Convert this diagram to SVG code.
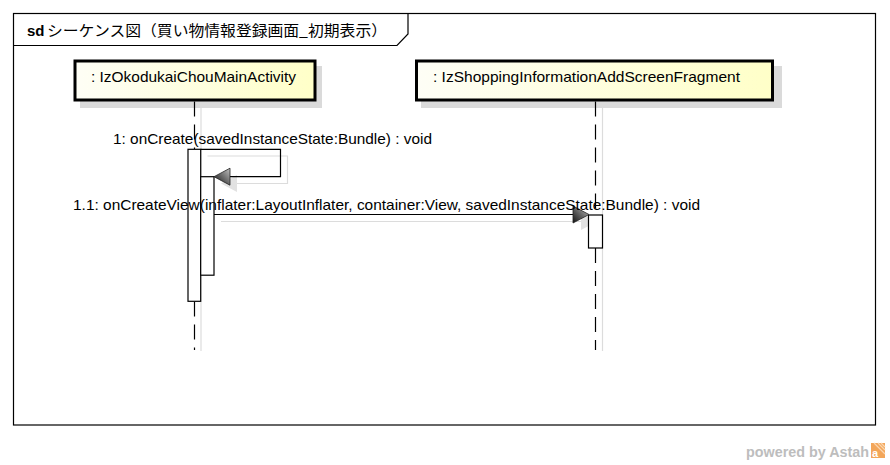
<svg xmlns="http://www.w3.org/2000/svg" width="890" height="465" viewBox="0 0 890 465">
<defs>
<linearGradient id="boxFill" x1="0" y1="0" x2="1" y2="0">
<stop offset="0" stop-color="#fefef6"/>
<stop offset="1" stop-color="#ffffc8"/>
</linearGradient>
<linearGradient id="headFill" x1="1" y1="0" x2="0" y2="1">
<stop offset="0" stop-color="#c0c0c0"/>
<stop offset="0.6" stop-color="#555"/>
<stop offset="1" stop-color="#111"/>
</linearGradient>
<style>
.t{font-family:"Liberation Sans",Arial,sans-serif;font-size:14.5px;fill:#000}
.frame{fill:none;stroke:#000;stroke-width:1.2}
.box{fill:url(#boxFill);stroke:#000;stroke-width:3}
.boxsh{fill:#dadada}
.life{stroke:#000;stroke-width:1.2;stroke-dasharray:15 8;fill:none}
.lifesh{stroke:#dcdcdc;stroke-width:1.2;fill:none}
.act{fill:#fff;stroke:#000;stroke-width:1.2}
.msg{fill:none;stroke:#000;stroke-width:1.2}
.msgsh{fill:none;stroke:#dcdcdc;stroke-width:1.2}
.head{fill:url(#headFill);stroke:#222;stroke-width:0.8}
.headsh{fill:#e2e2e2}
</style>
</defs>
<rect width="890" height="465" fill="#fff"/>
<g id="frame">
<rect class="frame" x="13.5" y="13.5" width="862" height="411.5"/>
<path class="frame" d="M13.5,45.5 H397 L408,34 V13.5"/>
<text class="t" x="27" y="36" style="font-size:15px"><tspan font-weight="bold">sd</tspan></text>
<text x="47" y="36" textLength="340" lengthAdjust="spacingAndGlyphs" style="font-family:'Noto Sans CJK JP','Liberation Sans',sans-serif;font-size:15px">シーケンス図（買い物情報登録画面_初期表示）</text>
</g>
<g id="lifeline-main">
<rect class="boxsh" x="80" y="66" width="242" height="42"/>
<line class="lifesh" x1="201" y1="108" x2="201" y2="351"/>
<rect class="box" x="75" y="61" width="240" height="39"/>
<text class="t" x="91" y="82" textLength="205" lengthAdjust="spacingAndGlyphs">: IzOkodukaiChouMainActivity</text>
<line class="life" x1="194.5" y1="101.5" x2="194.5" y2="149"/>
<line class="life" x1="194.5" y1="301.5" x2="194.5" y2="350"/>
</g>
<g id="lifeline-fragment">
<rect class="boxsh" x="421" y="66" width="361" height="42"/>
<line class="lifesh" x1="602.5" y1="108" x2="602.5" y2="351"/>
<rect class="box" x="416.5" y="61" width="356" height="39"/>
<text class="t" x="433" y="82" textLength="307" lengthAdjust="spacingAndGlyphs">: IzShoppingInformationAddScreenFragment</text>
<line class="life" x1="595.5" y1="101.5" x2="595.5" y2="215"/>
<line class="life" x1="595.5" y1="248" x2="595.5" y2="350"/>
</g>
<g id="connectors">
<path class="msgsh" d="M207.5,156 H287.5 V183.5 H232"/>
<polygon class="headsh" points="221,183.5 237,175 237,192"/>
<path class="msgsh" d="M221,221.5 H582"/>
<polygon class="headsh" points="597,221.5 581,213 581,230"/>
<rect class="act" x="188" y="149.3" width="12.7" height="152"/>
<rect class="act" x="200.7" y="176.7" width="13.3" height="98.5"/>
<rect class="act" x="588.5" y="215" width="14" height="33"/>
<path class="msg" d="M200.7,149.3 H280.5 V176.7 H228"/>
<polygon class="head" points="214,176.7 230,168.2 230,185.2"/>
<path class="msg" d="M214,214.5 H575"/>
<polygon class="head" points="589,214.5 573,206 573,223"/>
<text class="t" x="113" y="144.3" textLength="319" lengthAdjust="spacingAndGlyphs">1: onCreate(savedInstanceState:Bundle) : void</text>
<text class="t" x="73" y="210" textLength="627" lengthAdjust="spacingAndGlyphs">1.1: onCreateView(inflater:LayoutInflater, container:View, savedInstanceState:Bundle) : void</text>
</g>
<g id="watermark">
<text x="746" y="456.5" textLength="123" lengthAdjust="spacingAndGlyphs" style="font-family:'Liberation Sans',Arial,sans-serif;font-size:14.5px;font-weight:bold;fill:#bdbdbd">powered by Astah</text>
<rect x="871" y="443" width="14" height="15" fill="#f3a65a"/>
<path d="M878,443 L885,450 M881,443 L885,447 M874,443 L885,454" stroke="#fbd7b0" stroke-width="1.2"/>
<text x="872" y="457" style="font-family:'Liberation Sans',Arial,sans-serif;font-size:11px;font-weight:bold;fill:#fff">a</text>
</g>
</svg>
